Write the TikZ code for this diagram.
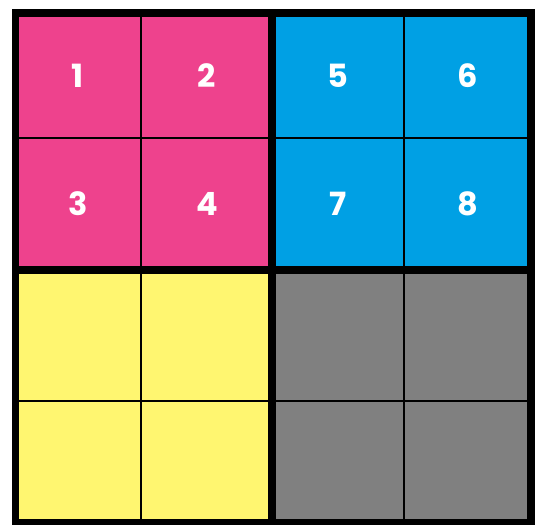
\documentclass[tikz,border=0pt]{standalone}
\usepackage{fontspec}
\setmainfont{Poppins}
\definecolor{quadpink}{RGB}{238,66,141}
\definecolor{quadblue}{RGB}{0,160,228}
\definecolor{quadyellow}{RGB}{255,246,112}
\definecolor{quadgray}{RGB}{128,128,128}
\begin{document}
\begin{tikzpicture}[x=0.5pt, y=-0.5pt,
    num/.style={text=white, font=\fontseries{sb}\selectfont\fontsize{16}{16}\selectfont},
    thinline/.style={line width=1pt},
    thickline/.style={line width=3.6pt}]
    \useasboundingbox (0,0) rectangle (542,525);

    % quadrants
    \fill[quadpink] (15.5,13) rectangle (272,270);
    \fill[quadblue] (272,13) rectangle (531,270);
    \fill[quadyellow] (15.5,270) rectangle (272,523);
    \fill[quadgray] (272,270) rectangle (531,523);

    % cell lines
    \draw[thinline] (141,13) -- (141,523);
    \draw[thinline] (404,13) -- (404,523);
    \draw[thinline] (15.5,138) -- (531,138);
    \draw[thinline] (15.5,401) -- (531,401);

    % quadrant lines
    \draw[thickline] (272,13) -- (272,523);
    \draw[thickline] (15.5,270) -- (531,270);
    \draw[thickline, line join=miter] (15.5,13) rectangle (531,523);

    \node[num] (n1) at (78,75.5) {1};
    \node[num] (n2) at (207,75.5) {2};
    \node[num] (n3) at (78,204) {3};
    \node[num] (n4) at (207,204) {4};
    \node[num] (n5) at (338,75.5) {5};
    \node[num] (n6) at (468,75.5) {6};
    \node[num] (n7) at (338,204) {7};
    \node[num] (n8) at (468,204) {8};
\end{tikzpicture}
\end{document}
